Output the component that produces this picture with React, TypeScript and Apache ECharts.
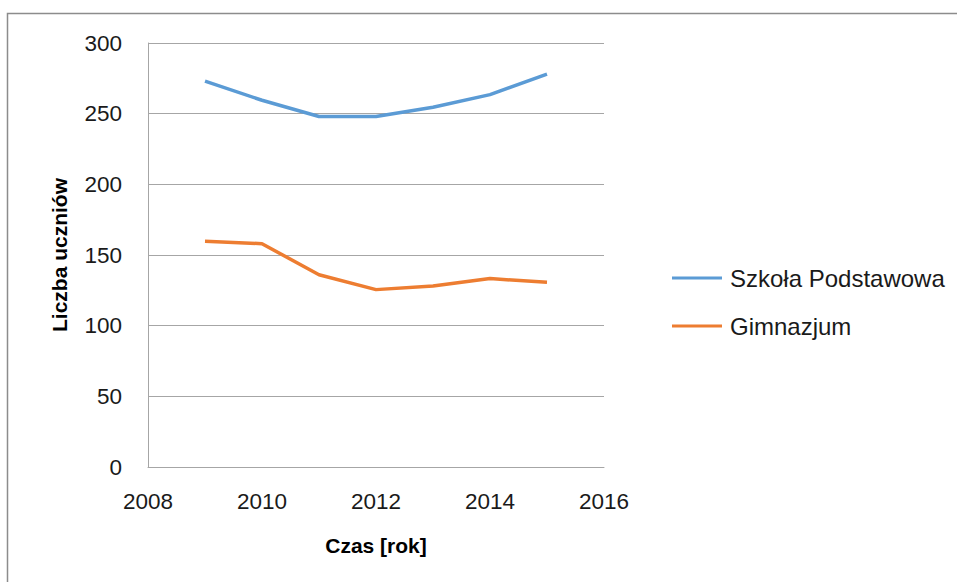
import React, { useEffect, useRef } from "react";
import * as echarts from "echarts";

const years = [2009, 2010, 2011, 2012, 2013, 2014, 2015];
const szkolaPodstawowa = [273, 259.5, 248, 248, 254.5, 263.5, 278];
const gimnazjum = [159.7, 158, 136, 125.5, 128, 133.3, 130.7];
const seriesNames = ["Szkoła Podstawowa", "Gimnazjum"];

const FONT = "'Liberation Sans', Arial, sans-serif";

export default function App() {
  const ref = useRef<HTMLDivElement>(null);
  useEffect(() => {
    if (!ref.current) return;
    const chart = echarts.init(ref.current, null, { renderer: "svg" });
    chart.setOption({
      animation: false,
      backgroundColor: "#ffffff",
      textStyle: { fontFamily: FONT },
      graphic: [
        {
          type: "rect",
          shape: { x: 7.5, y: 13.5, width: 1000, height: 700 },
          style: { fill: "none", stroke: "#8c8c8c", lineWidth: 1.5 },
          silent: true,
        },
      ],
      grid: { left: 148, top: 43, width: 456, height: 424 },
      legend: {
        orient: "vertical",
        left: 672,
        top: 266,
        padding: 0,
        itemWidth: 50,
        itemHeight: 3,
        itemGap: 24,
        icon: "rect",
        textStyle: { fontSize: 24, color: "#1a1a1a", fontFamily: FONT, lineHeight: 24, padding: [0, 0, 0, 3] },
        data: seriesNames,
      },
      xAxis: {
        type: "value",
        min: 2008,
        max: 2016,
        interval: 2,
        name: "Czas [rok]",
        nameLocation: "middle",
        nameGap: 68,
        nameTextStyle: { fontSize: 21, fontWeight: "bold", color: "#000", fontFamily: FONT },
        axisLine: { show: true, lineStyle: { color: "#a6a6a6" } },
        axisTick: { show: false },
        splitLine: { show: false },
        axisLabel: {
          fontSize: 22.5,
          color: "#1a1a1a",
          margin: 23,
          fontFamily: FONT,
          formatter: (v: number) => String(v),
        },
      },
      yAxis: {
        type: "value",
        min: 0,
        max: 300,
        interval: 50,
        name: "Liczba uczniów",
        nameLocation: "middle",
        nameGap: 78,
        nameTextStyle: { fontSize: 21, fontWeight: "bold", color: "#000", fontFamily: FONT },
        axisLine: { show: true, lineStyle: { color: "#a6a6a6" } },
        axisTick: { show: false },
        splitLine: { show: true, lineStyle: { color: "#a6a6a6" } },
        axisLabel: {
          fontSize: 22.5,
          color: "#1a1a1a",
          margin: 26,
          fontFamily: FONT,
          formatter: (v: number) => String(v),
        },
      },
      series: [
        {
          name: seriesNames[0],
          type: "line",
          data: years.map((y, i) => [y, szkolaPodstawowa[i]]),
          showSymbol: false,
          lineStyle: { color: "#5B9BD5", width: 3.5 },
          itemStyle: { color: "#5B9BD5" },
        },
        {
          name: seriesNames[1],
          type: "line",
          data: years.map((y, i) => [y, gimnazjum[i]]),
          showSymbol: false,
          lineStyle: { color: "#ED7D31", width: 3.5 },
          itemStyle: { color: "#ED7D31" },
        },
      ],
    });
    return () => chart.dispose();
  }, []);
  return <div ref={ref} style={{ width: 957, height: 582, position: "absolute", left: 0, top: 0 }} />;
}
